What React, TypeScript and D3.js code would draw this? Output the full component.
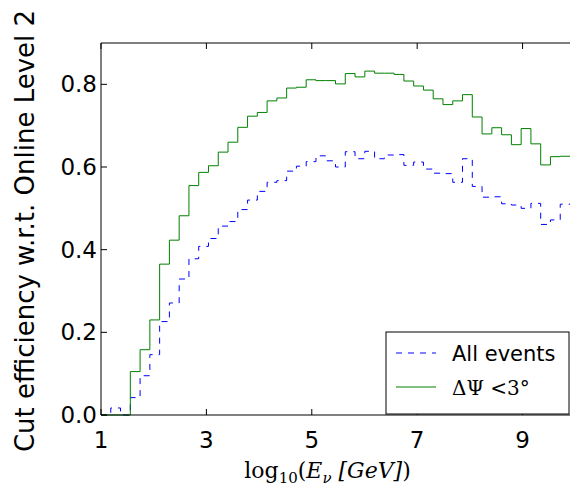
import React from 'react'
import * as d3 from 'd3'

const width = 572
const height = 495
const margin = { top: 43, right: 2, bottom: 80, left: 101 }
const xMin = 1
const xMax = 9.9
const nBins = 48

const allEvents = [0, 0.017, 0, 0.042, 0.095, 0.146, 0.226, 0.271, 0.329, 0.378, 0.408, 0.427, 0.457, 0.468, 0.497, 0.52,
  0.541, 0.563, 0.567, 0.59, 0.602, 0.613, 0.627, 0.615, 0.6, 0.637, 0.62, 0.638, 0.62, 0.629, 0.63, 0.604,
  0.612, 0.595, 0.585, 0.584, 0.563, 0.62, 0.553, 0.527, 0.528, 0.511, 0.508, 0.5, 0.512, 0.461, 0.472, 0.51]
const psiCut = [0, 0, 0, 0.105, 0.158, 0.23, 0.365, 0.423, 0.482, 0.555, 0.587, 0.603, 0.636, 0.66, 0.696, 0.723,
  0.732, 0.76, 0.767, 0.791, 0.793, 0.811, 0.809, 0.809, 0.801, 0.826, 0.818, 0.832, 0.827, 0.827, 0.824, 0.808,
  0.796, 0.786, 0.765, 0.751, 0.76, 0.775, 0.721, 0.68, 0.695, 0.678, 0.654, 0.693, 0.656, 0.605, 0.625, 0.626]
const xTicks = [1, 3, 5, 7, 9]
const yTicks = [0, 0.2, 0.4, 0.6, 0.8]

const x = d3.scaleLinear().domain([xMin, xMax]).range([margin.left, width - margin.right])
const y = d3.scaleLinear().domain([0, 0.9]).range([height - margin.bottom, margin.top])
const binW = (xMax - xMin) / nBins

const stepPath = (vals: number[]) => {
  const pts: [number, number][] = vals.map((v, i) => [xMin + i * binW, v])
  pts.push([xMax, vals[vals.length - 1]])
  return d3.line<[number, number]>().x(d => x(d[0])).y(d => y(d[1])).curve(d3.curveStepAfter)(pts) as string
}

const App = () => {
  const x0 = margin.left, x1 = width - margin.right
  const y0 = height - margin.bottom, y1 = margin.top
  const font = 'DejaVu Sans, sans-serif'
  return (
    <svg width={width} height={height} style={{ position: 'absolute', left: 0, top: 0 }}>
      <rect width={width} height={height} fill="#fff" />
      <path d={stepPath(allEvents)} fill="none" stroke="#0000ff" strokeWidth={1} strokeDasharray="6,6" />
      <path d={stepPath(psiCut)} fill="none" stroke="#008000" strokeWidth={1} />
      <line x1={x0} x2={x0} y1={y0} y2={y1} stroke="#000" />
      <line x1={x0} x2={x1} y1={y0} y2={y0} stroke="#000" />
      <line x1={x0} x2={x1} y1={y1} y2={y1} stroke="#000" />
      {xTicks.map(t => (
        <g key={t}>
          <line x1={x(t)} x2={x(t)} y1={y0} y2={y0 - 6} stroke="#000" />
          <line x1={x(t)} x2={x(t)} y1={y1} y2={y1 + 6} stroke="#000" />
          <text x={x(t)} y={y0 + 33} textAnchor="middle" fontFamily={font} fontSize={23}>{t}</text>
        </g>
      ))}
      {yTicks.map(t => (
        <g key={t}>
          <line x1={x0} x2={x0 + 6} y1={y(t)} y2={y(t)} stroke="#000" />
          <text x={x0 - 4} y={y(t) + 8} textAnchor="end" fontFamily={font} fontSize={23}>{t.toFixed(1)}</text>
        </g>
      ))}
      <text transform={`translate(34,${(y0 + y1) / 2 + 2}) rotate(-90)`} textAnchor="middle" fontFamily={font} fontSize={26}>
        Cut efficiency w.r.t. Online Level 2
      </text>
      <text x={(x0 + x1) / 2 - 8} y={y0 + 63} textAnchor="middle" fontFamily="DejaVu Serif, serif" fontSize={22}>
        log<tspan fontSize={15} dy={5}>10</tspan><tspan dy={-5}>(</tspan>
        <tspan fontStyle="italic">E</tspan><tspan fontStyle="italic" fontSize={15} dy={5}>ν</tspan>
        <tspan dy={-5} fontStyle="italic"> [GeV]</tspan>)
      </text>
      <g>
        <rect x={386} y={332} width={183} height={82} fill="#fff" stroke="#000" />
        <line x1={396} x2={436} y1={353} y2={353} stroke="#0000ff" strokeDasharray="6,6" />
        <text x={452} y={361} fontFamily={font} fontSize={21}>All events</text>
        <line x1={396} x2={436} y1={387} y2={387} stroke="#008000" />
        <text x={452} y={395} fontFamily="DejaVu Serif, serif" fontSize={20}>ΔΨ <tspan fontStyle="italic">&lt;</tspan>3°</text>
      </g>
    </svg>
  )
}

export default App
